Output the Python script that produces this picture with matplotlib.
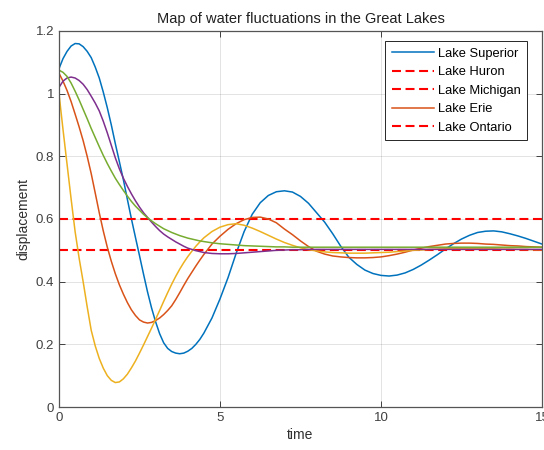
import numpy as np
import matplotlib
matplotlib.use('Agg')
import matplotlib.pyplot as plt
from matplotlib.ticker import FormatStrFormatter

plt.rcParams['font.family'] = ['Liberation Sans', 'DejaVu Sans']

# time samples: finer (0.125) over the fast early part, 0.25 afterwards
time = np.concatenate([np.arange(0, 4.5, 0.125), np.arange(4.5, 15.01, 0.25)])

# values
superior = [1.08, 1.112, 1.135, 1.152, 1.16, 1.159, 1.15, 1.135, 1.115, 1.085,
            1.05, 1.005, 0.955, 0.9, 0.84, 0.783, 0.725, 0.662, 0.6, 0.541,
            0.483, 0.424, 0.367, 0.316, 0.272, 0.234, 0.205, 0.187, 0.177, 0.172,
            0.17, 0.172, 0.178, 0.187, 0.2, 0.216, 0.236,
            0.284, 0.345, 0.413, 0.49, 0.56, 0.615, 0.652, 0.675, 0.687, 0.69,
            0.686, 0.672, 0.65, 0.62, 0.59, 0.553, 0.513, 0.478, 0.455, 0.437,
            0.426, 0.42, 0.418, 0.421, 0.428, 0.439, 0.453, 0.469, 0.486, 0.504,
            0.521, 0.536, 0.548, 0.557, 0.561, 0.562, 0.559, 0.553, 0.546, 0.538,
            0.529, 0.52]

erie = [1.065, 1.04, 1.01, 0.975, 0.935, 0.894, 0.85, 0.8, 0.745, 0.683,
        0.62, 0.562, 0.51, 0.465, 0.425, 0.39, 0.36, 0.333, 0.31, 0.292,
        0.278, 0.271, 0.268, 0.27, 0.276, 0.284, 0.295, 0.308, 0.323, 0.343,
        0.365, 0.388, 0.41, 0.43, 0.45, 0.469, 0.487,
        0.52, 0.545, 0.567, 0.585, 0.598, 0.605, 0.606, 0.6, 0.588, 0.568,
        0.55, 0.53, 0.512, 0.497, 0.488, 0.482, 0.479, 0.477, 0.476, 0.476,
        0.477, 0.479, 0.483, 0.488, 0.494, 0.501, 0.507, 0.512, 0.516, 0.52,
        0.522, 0.523, 0.523, 0.522, 0.52, 0.519, 0.517, 0.515, 0.514, 0.512,
        0.511, 0.51]

yellow = [1.0, 0.885, 0.775, 0.665, 0.56, 0.475, 0.4, 0.32, 0.245, 0.195,
          0.155, 0.124, 0.1, 0.085, 0.078, 0.08, 0.09, 0.105, 0.125, 0.147,
          0.172, 0.198, 0.225, 0.252, 0.28, 0.308, 0.337, 0.365, 0.392, 0.417,
          0.44, 0.461, 0.48, 0.497, 0.513, 0.527, 0.54,
          0.56, 0.574, 0.582, 0.585, 0.58, 0.571, 0.56, 0.548, 0.536, 0.525,
          0.516, 0.508, 0.502, 0.498, 0.495, 0.493, 0.492, 0.491, 0.491, 0.491,
          0.492, 0.493, 0.494, 0.496, 0.498, 0.5, 0.501, 0.503, 0.504, 0.505,
          0.506, 0.506, 0.506, 0.506, 0.505, 0.505, 0.504, 0.504, 0.503, 0.503,
          0.502, 0.502]

purple = [1.02, 1.04, 1.05, 1.053, 1.05, 1.042, 1.03, 1.013, 0.992, 0.97,
          0.945, 0.912, 0.875, 0.835, 0.795, 0.76, 0.73, 0.704, 0.68, 0.658,
          0.638, 0.62, 0.605, 0.59, 0.576, 0.563, 0.552, 0.543, 0.535, 0.527,
          0.52, 0.513, 0.507, 0.503, 0.499, 0.496, 0.493,
          0.49, 0.489, 0.489, 0.49, 0.492, 0.494, 0.496, 0.498, 0.5, 0.501,
          0.502, 0.502, 0.503, 0.503, 0.503, 0.503, 0.503, 0.503, 0.503, 0.503,
          0.503, 0.503, 0.503, 0.503, 0.503, 0.503, 0.503, 0.503, 0.503, 0.503,
          0.503, 0.503, 0.503, 0.503, 0.503, 0.503, 0.503, 0.503, 0.503, 0.503,
          0.503, 0.503]

green = [1.075, 1.068, 1.055, 1.034, 1.008, 0.98, 0.95, 0.92, 0.889, 0.86,
         0.831, 0.803, 0.777, 0.753, 0.73, 0.71, 0.691, 0.673, 0.656, 0.641,
         0.628, 0.615, 0.604, 0.594, 0.585, 0.577, 0.569, 0.563, 0.557, 0.552,
         0.547, 0.543, 0.539, 0.536, 0.533, 0.53, 0.528,
         0.524, 0.521, 0.519, 0.517, 0.515, 0.514, 0.513, 0.512, 0.511, 0.511,
         0.51, 0.51, 0.51, 0.51, 0.51, 0.51, 0.51, 0.51, 0.51, 0.51,
         0.51, 0.51, 0.51, 0.51, 0.51, 0.51, 0.51, 0.51, 0.51, 0.51,
         0.51, 0.51, 0.51, 0.51, 0.51, 0.51, 0.51, 0.51, 0.51, 0.51,
         0.51, 0.51]

levels = [0.6, 0.5]
legend_labels = ['Lake Superior', 'Lake Huron', 'Lake Michigan', 'Lake Erie', 'Lake Ontario']

fig = plt.figure(figsize=(5.44, 4.5), dpi=100)
ax = fig.add_axes([59 / 544, 43 / 450, 483 / 544, 376 / 450])

lw = 1.1
h_sup, = ax.plot(time, superior, color='#0072BD', lw=lw)
h_lvl = []
for lv in levels:
    h, = ax.plot([0, 15], [lv, lv], color='#FF0000', lw=1.5, dashes=(4.3, 2.2))
    h_lvl.append(h)
h_erie, = ax.plot(time, erie, color='#D95319', lw=lw)
ax.plot(time, yellow, color='#EDB120', lw=lw)
ax.plot(time, purple, color='#7E2F8E', lw=lw)
ax.plot(time, green, color='#77AC30', lw=lw)

ax.set_xlim(0, 15)
ax.set_ylim(0, 1.2)
ax.set_xticks([0, 5, 10, 15])
ax.set_yticks([0, 0.2, 0.4, 0.6, 0.8, 1.0, 1.2])
ax.yaxis.set_major_formatter(FormatStrFormatter('%g'))

dark = '#262626'
ax.grid(True, color=dark, alpha=0.15, lw=0.6)
ax.tick_params(direction='in', top=True, right=True, length=4, width=0.6,
               colors=dark, labelsize=9.5, labelcolor='#404040')
for s in ax.spines.values():
    s.set_color('#555555')
    s.set_linewidth(0.9)

ax.set_title('Map of water fluctuations in the Great Lakes', fontsize=10.5,
             color='#202020', pad=6)
ax.set_xlabel('time', fontsize=10, color='#303030', labelpad=3)
ax.set_ylabel('displacement', fontsize=10, color='#303030', labelpad=4)

leg = ax.legend([h_sup, h_lvl[0], h_lvl[1], h_erie, h_lvl[1]], legend_labels,
                loc='upper right', fontsize=9.3, fancybox=False, framealpha=1,
                edgecolor=dark, handlelength=3.3, handletextpad=0.3,
                labelspacing=0.5, borderpad=0.5, bbox_to_anchor=(0.983, 0.99))
leg.get_frame().set_linewidth(0.7)

fig.savefig('out.png', dpi=100)
